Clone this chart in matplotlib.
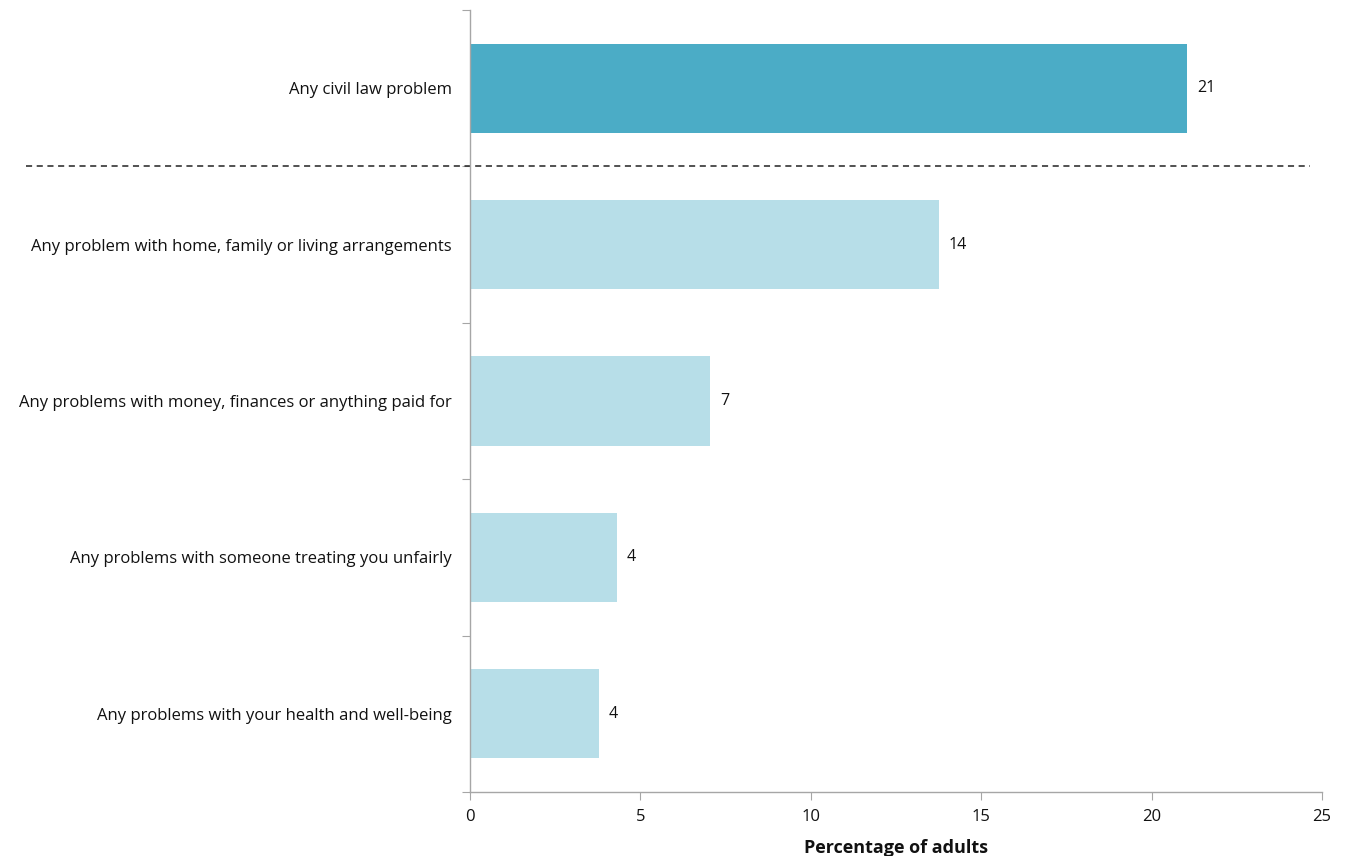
import matplotlib
matplotlib.use("Agg")
import matplotlib.pyplot as plt
import matplotlib.transforms as mtransforms
import numpy as np

plt.rcParams['font.family'] = ['Open Sans', 'DejaVu Sans']

categories = [
    'Any civil law problem',
    'Any problem with home, family or living arrangements',
    'Any problems with money, finances or anything paid for',
    'Any problems with someone treating you unfairly',
    'Any problems with your health and well-being',
]
values = [21.05, 13.75, 7.05, 4.3, 3.78]
value_labels = ['21', '14', '7', '4', '4']
xticks = [0, 5, 10, 15, 20, 25]

dark = '#4BACC6'
light = '#B7DEE8'
axis_grey = '#A6A6A6'
text_col = '#111111'

fig = plt.figure(figsize=(13.47, 8.56), dpi=100)
ax = fig.add_axes([0.349, 0.0748, 0.6325, 0.9135])

y = np.arange(len(categories))
colors = [dark] + [light] * (len(categories) - 1)
ax.barh(y, values, height=0.57, color=colors)

for yi, v, lab in zip(y, values, value_labels):
    ax.annotate(lab, (v, yi), xytext=(7, 0), textcoords='offset points',
                va='center', ha='left', fontsize=11.5, color=text_col)

ax.set_xlim(0, 25)
ax.set_ylim(len(categories) - 0.5, -0.5)
ax.set_xticks(xticks)
ax.set_xticklabels([str(t) for t in xticks], fontsize=12, color=text_col)

# category boundaries as major ticks, labels on minor ticks
ax.set_yticks(np.arange(-0.5, len(categories), 1.0))
ax.set_yticklabels([])
ax.set_yticks(y, minor=True)
ax.set_yticklabels(categories, minor=True, fontsize=12, color=text_col)
ax.tick_params(axis='y', which='minor', length=0, pad=13)
ax.tick_params(axis='y', which='major', length=6, color=axis_grey, direction='out')
ax.tick_params(axis='x', length=6, color=axis_grey, direction='out', pad=6)

for side in ['top', 'right']:
    ax.spines[side].set_visible(False)
for side in ['left', 'bottom']:
    ax.spines[side].set_color(axis_grey)
    ax.spines[side].set_linewidth(1.0)

ax.set_xlabel('Percentage of adults', fontsize=13, fontweight='bold',
              labelpad=10, color=text_col)

# dashed separator below the headline bar
trans = mtransforms.blended_transform_factory(fig.transFigure, ax.transData)
ax.plot([0.019, 0.9725], [0.5, 0.5], transform=trans, color='#222222',
        linestyle=(0, (4, 3)), linewidth=1.1, clip_on=False)

fig.savefig('out.png', dpi=100)
